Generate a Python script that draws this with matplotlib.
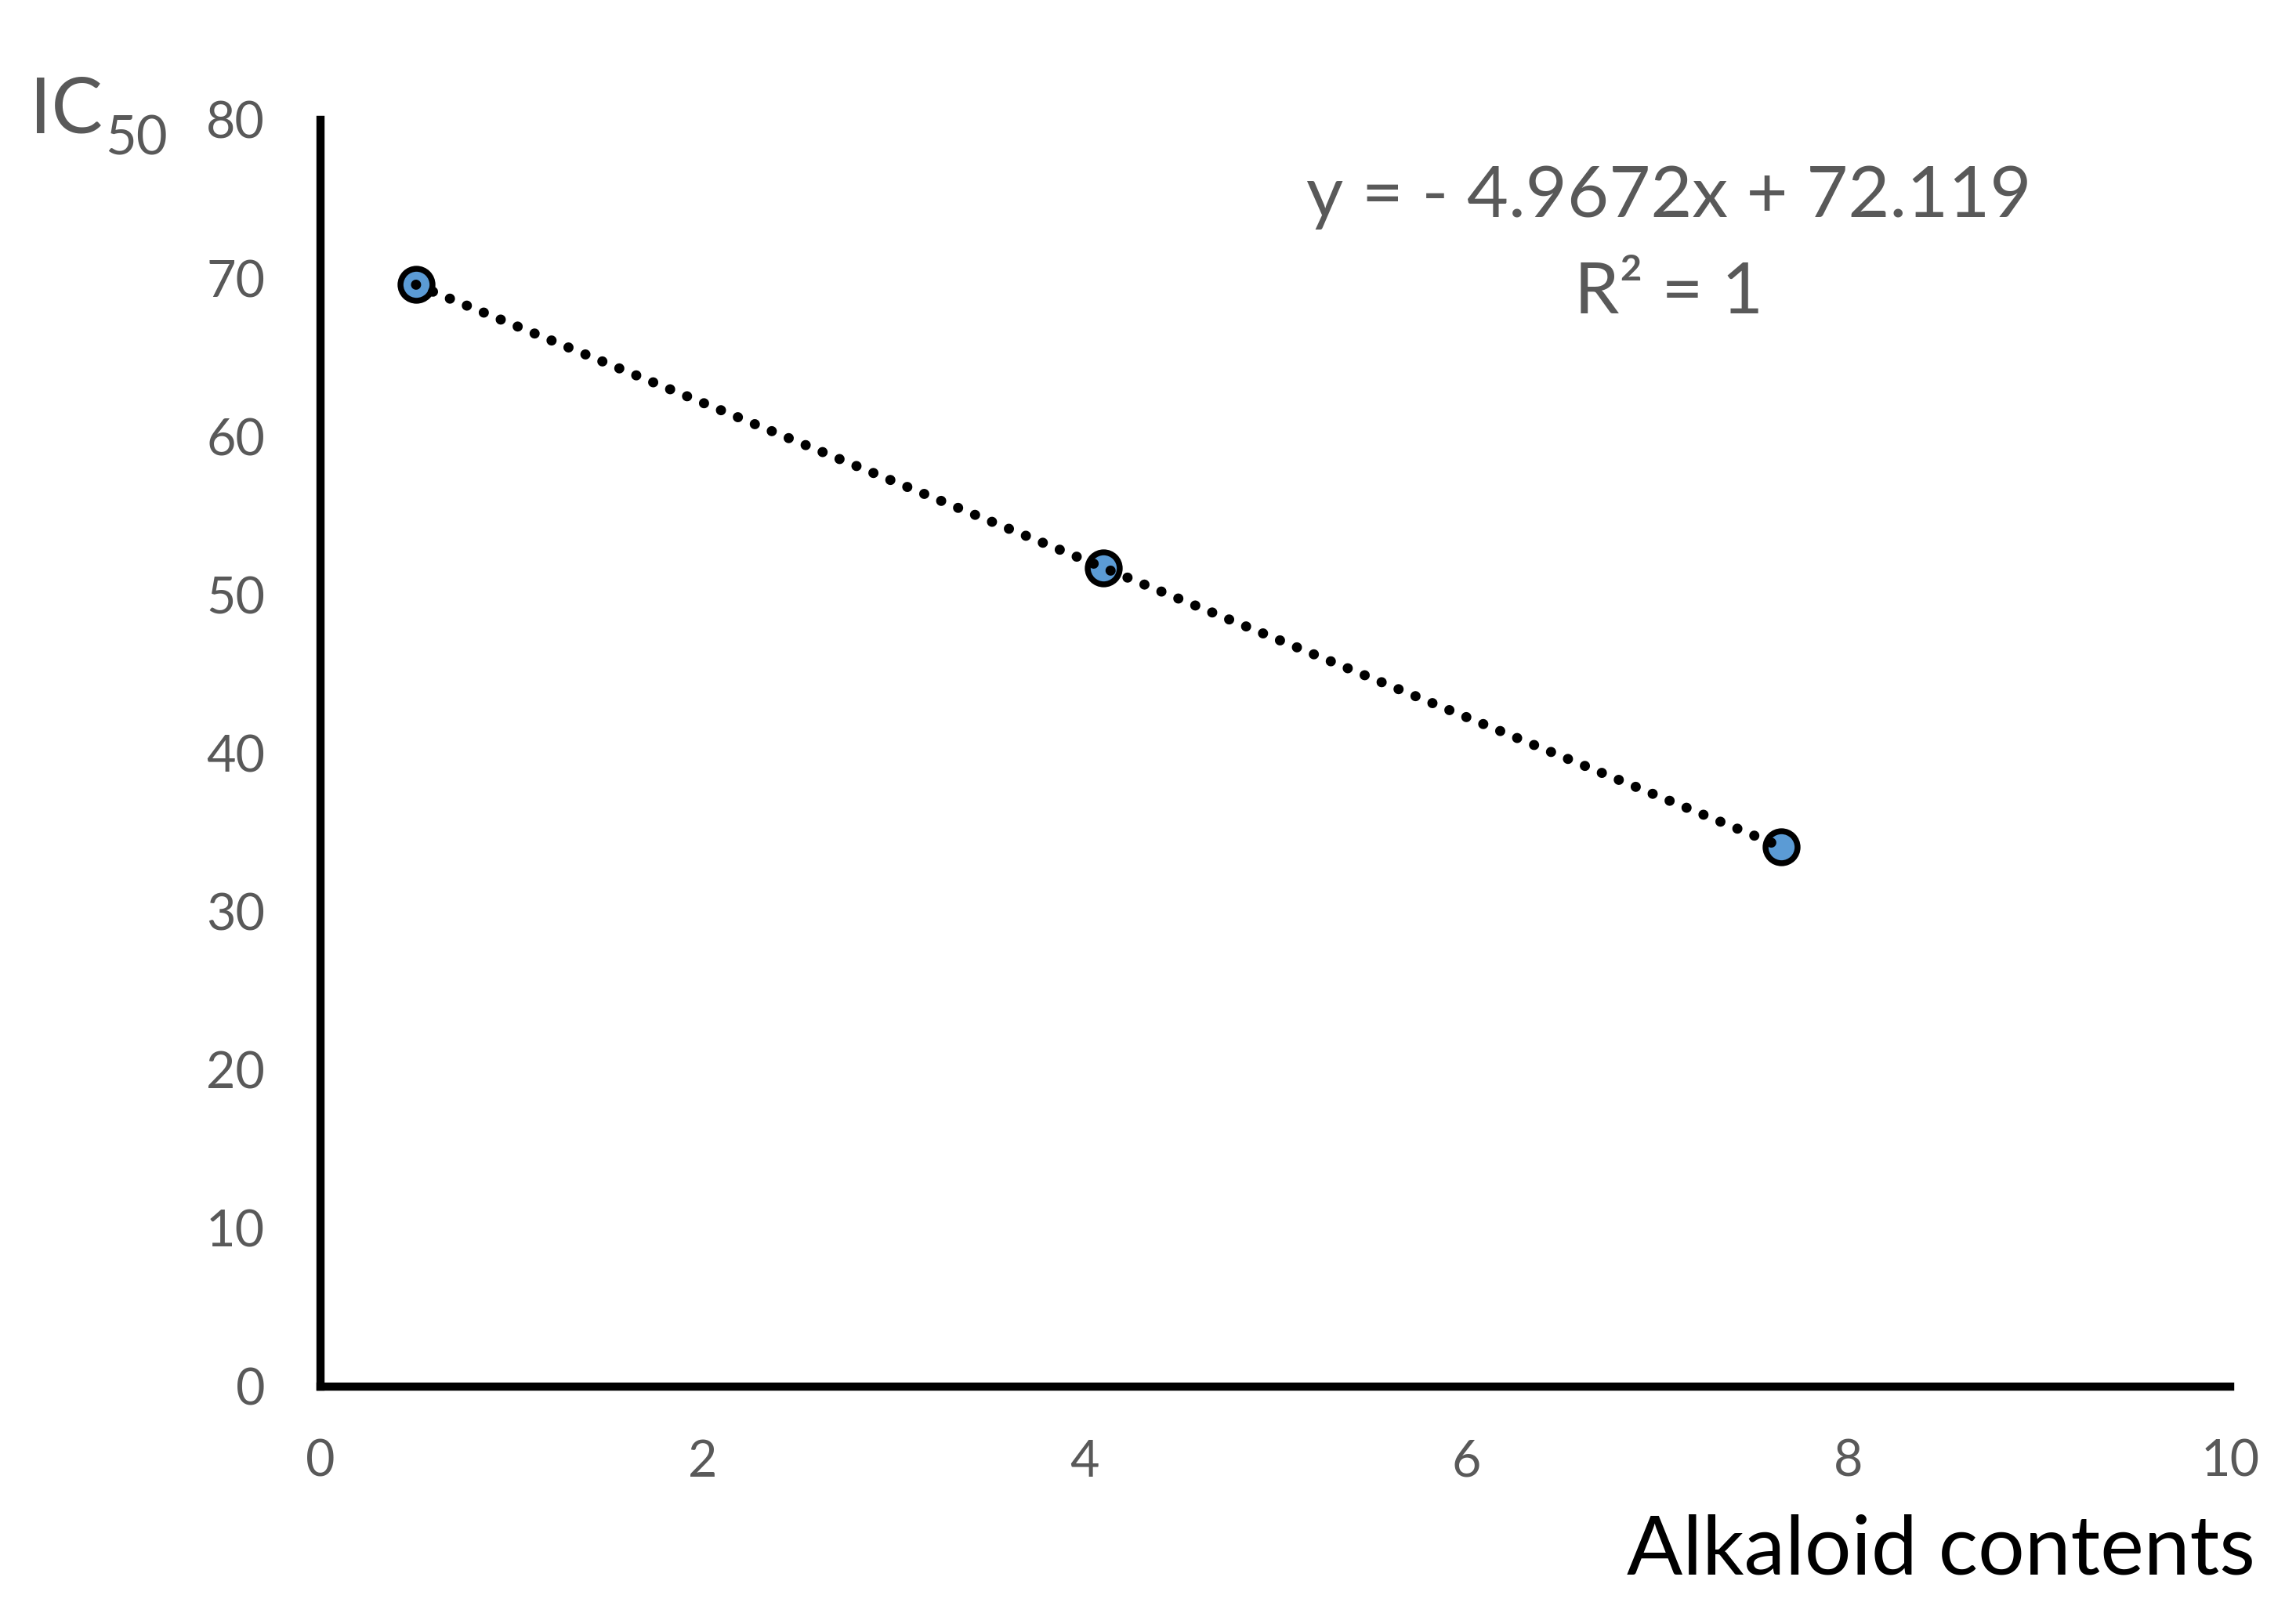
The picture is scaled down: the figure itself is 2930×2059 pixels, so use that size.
import numpy as np
from matplotlib import pyplot as plt

plt.rcParams['font.family'] = ['Lato', 'DejaVu Sans']

alkaloid = [0.5, 4.1, 7.65]
ic50 = [69.6, 51.7, 34.1]
x_ticks = [0, 2, 4, 6, 8, 10]
y_ticks = [0, 10, 20, 30, 40, 50, 60, 70, 80]
equation = 'y = - 4.9672x + 72.119'
r2_text = 'R\u00b2 = 1'

grey = '#595959'

fig = plt.figure(figsize=(2930 / 300, 2059 / 300), dpi=300)
ax = fig.add_axes([409 / 2930, 1 - 1770 / 2059, (2846 - 409) / 2930, (1770 - 153) / 2059])

ax.plot(alkaloid, ic50, 'o', ms=9.8, mfc='#5b9bd5', mec='black', mew=1.8, zorder=3)

# linear trend line over the data range
k, b = np.polyfit(alkaloid, ic50, 1)
xs = np.array([alkaloid[0], alkaloid[-1]])
ax.plot(xs, k * xs + b, color='black', lw=3.1, linestyle=(0, (0.01, 1.8)),
        dash_capstyle='round', zorder=4)

ax.set_xlim(0, 10)
ax.set_ylim(0, 80)
ax.set_xticks(x_ticks)
ax.set_yticks(y_ticks)
ax.tick_params(length=0, labelsize=15.5, labelcolor=grey)
ax.tick_params(axis='y', pad=17)
ax.tick_params(axis='x', pad=16)
for s in ['top', 'right']:
    ax.spines[s].set_visible(False)
for s in ['left', 'bottom']:
    ax.spines[s].set_linewidth(2.5)
    ax.spines[s].set_color('black')

ax.text(0.706, 0.939, equation, transform=ax.transAxes, ha='center', va='center',
        fontsize=22, color=grey)
ax.text(0.706, 0.863, r2_text, transform=ax.transAxes, ha='center', va='center',
        fontsize=22, color=grey)

fig.text(38 / 2930, 1 - 170 / 2059, 'IC', ha='left', va='baseline',
         fontsize=23.5, color=grey)
fig.text(134 / 2930, 1 - 198 / 2059, '50', ha='left', va='baseline',
         fontsize=16.5, color=grey)
fig.text(2878 / 2930, 1 - 2009 / 2059, 'Alkaloid contents', ha='right', va='baseline',
         fontsize=25.3, color='black')

fig.savefig('out.png', dpi=300)
